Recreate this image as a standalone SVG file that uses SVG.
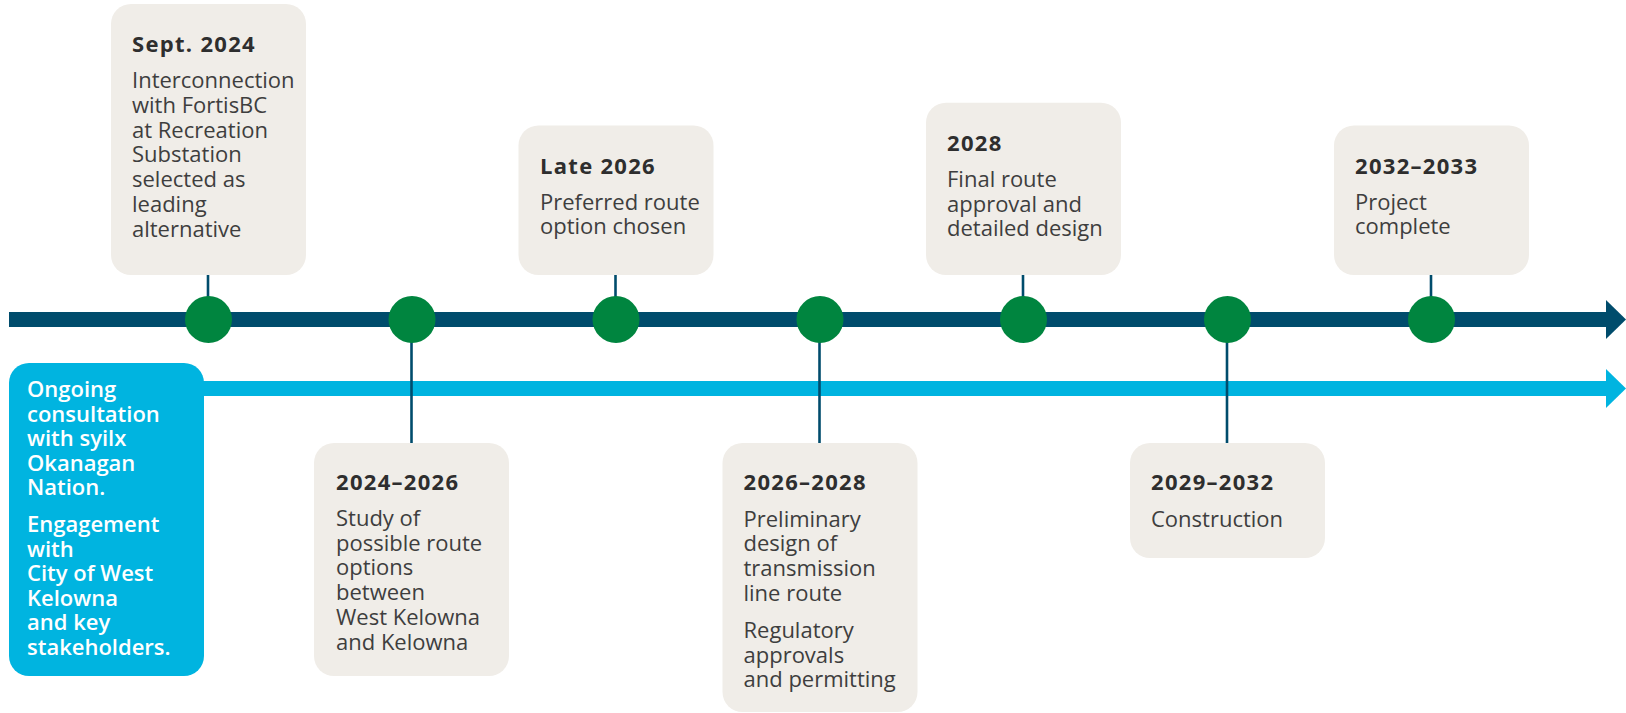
<svg xmlns="http://www.w3.org/2000/svg" width="1626" height="713" viewBox="0 0 1626 713">
<style>
.box{fill:#f0ede8}
.t{font-family:"Open Sans","Liberation Sans",sans-serif;font-size:22px;font-weight:700;fill:#2e2e2e;letter-spacing:1.3px}
.b{font-family:"Open Sans","Liberation Sans",sans-serif;font-size:22px;font-weight:400;fill:#3e3e3e}
.w{font-family:"Open Sans","Liberation Sans",sans-serif;font-size:22px;font-weight:600;fill:#ffffff}
.stem{stroke:#004c6c;stroke-width:2.6;fill:none}
.dot{fill:#00853f}
</style>
<rect width="1626" height="713" fill="#ffffff"/>
<g id="timeline">
  <rect x="180" y="381" width="1430" height="15" fill="#00b4e0"/>
  <polygon points="1606,369 1626,388.5 1606,408" fill="#00b4e0"/>
  <rect x="9" y="312" width="1601" height="15" fill="#004c6c"/>
  <polygon points="1606,300 1626,319.5 1606,339" fill="#004c6c"/>
</g>
<g id="connectors">
  <line class="stem" x1="208" y1="275" x2="208" y2="319"/>
  <line class="stem" x1="411.5" y1="319" x2="411.5" y2="443"/>
  <line class="stem" x1="615.5" y1="275" x2="615.5" y2="319"/>
  <line class="stem" x1="819.5" y1="319" x2="819.5" y2="443"/>
  <line class="stem" x1="1023" y1="275" x2="1023" y2="319"/>
  <line class="stem" x1="1227" y1="319" x2="1227" y2="443"/>
  <line class="stem" x1="1431" y1="275" x2="1431" y2="319"/>
</g>
<g id="dots">
  <circle class="dot" cx="208.5" cy="319.5" r="23.5"/>
  <circle class="dot" cx="412" cy="319.5" r="23.5"/>
  <circle class="dot" cx="616" cy="319.5" r="23.5"/>
  <circle class="dot" cx="820" cy="319.5" r="23.5"/>
  <circle class="dot" cx="1023.5" cy="319.5" r="23.5"/>
  <circle class="dot" cx="1227.5" cy="319.5" r="23.5"/>
  <circle class="dot" cx="1431.5" cy="319.5" r="23.5"/>
</g>
<g id="consultation">
  <rect x="9" y="363" width="195" height="313" rx="20" fill="#00b4e0"/>
  <text class="w" x="27" y="397">Ongoing</text>
  <text class="w" x="27" y="421.5">consultation</text>
  <text class="w" x="27" y="446">with syilx</text>
  <text class="w" x="27" y="470.5">Okanagan</text>
  <text class="w" x="27" y="495">Nation.</text>
  <text class="w" x="27" y="532">Engagement</text>
  <text class="w" x="27" y="556.5">with</text>
  <text class="w" x="27" y="581">City of West</text>
  <text class="w" x="27" y="605.5">Kelowna</text>
  <text class="w" x="27" y="630">and key</text>
  <text class="w" x="27" y="654.5">stakeholders.</text>
</g>
<g id="sept2024">
  <rect class="box" x="111" y="4" width="195" height="271" rx="20"/>
  <text class="t" x="132" y="52">Sept. 2024</text>
  <text class="b" x="132" y="88">Interconnection</text>
  <text class="b" x="132" y="112.8">with FortisBC</text>
  <text class="b" x="132" y="137.6">at Recreation</text>
  <text class="b" x="132" y="162.4">Substation</text>
  <text class="b" x="132" y="187.2">selected as</text>
  <text class="b" x="132" y="212">leading</text>
  <text class="b" x="132" y="236.8">alternative</text>
</g>
<g id="y2024-2026">
  <rect class="box" x="314" y="443" width="195" height="233" rx="20"/>
  <text class="t" x="336" y="490">2024–2026</text>
  <text class="b" x="336" y="526">Study of</text>
  <text class="b" x="336" y="550.7">possible route</text>
  <text class="b" x="336" y="575.4">options</text>
  <text class="b" x="336" y="600.1">between</text>
  <text class="b" x="336" y="624.8">West Kelowna</text>
  <text class="b" x="336" y="649.5">and Kelowna</text>
</g>
<g id="late2026">
  <rect class="box" x="518.5" y="125.5" width="195" height="149.5" rx="20"/>
  <text class="t" x="540" y="173.5">Late 2026</text>
  <text class="b" x="540" y="209.5">Preferred route</text>
  <text class="b" x="540" y="234.3">option chosen</text>
</g>
<g id="y2026-2028">
  <rect class="box" x="722.5" y="443" width="195" height="269" rx="20"/>
  <text class="t" x="743.5" y="490">2026–2028</text>
  <text class="b" x="743.5" y="526.5">Preliminary</text>
  <text class="b" x="743.5" y="551.3">design of</text>
  <text class="b" x="743.5" y="576.1">transmission</text>
  <text class="b" x="743.5" y="600.9">line route</text>
  <text class="b" x="743.5" y="638">Regulatory</text>
  <text class="b" x="743.5" y="662.5">approvals</text>
  <text class="b" x="743.5" y="687">and permitting</text>
</g>
<g id="y2028">
  <rect class="box" x="926" y="102.7" width="195" height="172.3" rx="20"/>
  <text class="t" x="947" y="150.7">2028</text>
  <text class="b" x="947" y="186.7">Final route</text>
  <text class="b" x="947" y="211.5">approval and</text>
  <text class="b" x="947" y="236.3">detailed design</text>
</g>
<g id="y2029-2032">
  <rect class="box" x="1130" y="443" width="195" height="115" rx="20"/>
  <text class="t" x="1151" y="490">2029–2032</text>
  <text class="b" x="1151" y="526.5">Construction</text>
</g>
<g id="y2032-2033">
  <rect class="box" x="1334" y="125.5" width="195" height="149.5" rx="20"/>
  <text class="t" x="1355" y="173.5">2032–2033</text>
  <text class="b" x="1355" y="209.5">Project</text>
  <text class="b" x="1355" y="234.3">complete</text>
</g>
</svg>
